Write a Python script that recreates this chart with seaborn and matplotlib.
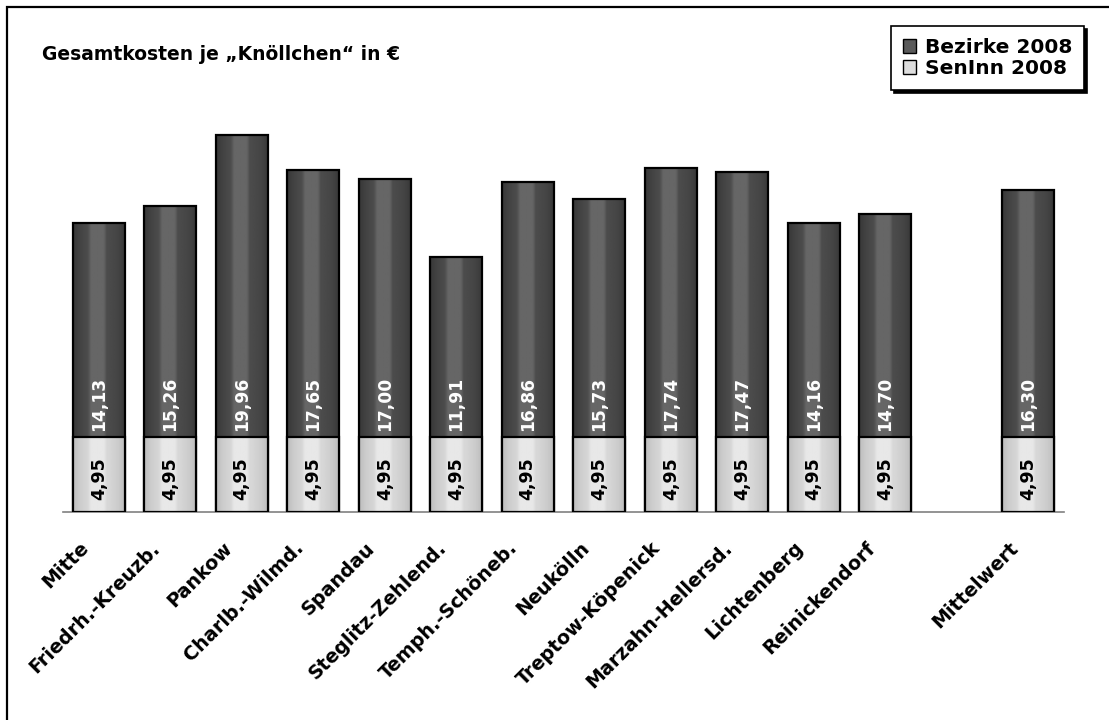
import numpy as np
import pandas as pd
import matplotlib
matplotlib.use("Agg")
import matplotlib.pyplot as plt
import matplotlib.transforms as mtransforms
from matplotlib.patches import Patch, Rectangle
import seaborn as sns

# Daten
bezirke = ["Mitte", "Friedrh.-Kreuzb.", "Pankow", "Charlb.-Wilmd.", "Spandau",
           "Steglitz-Zehlend.", "Temph.-Schöneb.", "Neukölln", "Treptow-Köpenick",
           "Marzahn-Hellersd.", "Lichtenberg", "Reinickendorf", "Mittelwert"]
kosten_bezirke = [14.13, 15.26, 19.96, 17.65, 17.00, 11.91, 16.86, 15.73, 17.74,
                  17.47, 14.16, 14.70, 16.30]
kosten_seninn = [4.95] * 13
reihenfolge = bezirke[:12] + [""] + bezirke[12:]


def fmt(v):
    return f"{v:.2f}".replace(".", ",")


def gradient_fill(ax, patch, stops, vals, z):
    x0, y0 = patch.get_x(), patch.get_y()
    w, h = patch.get_width(), patch.get_height()
    xs = np.linspace(0, 1, 64)
    g = np.interp(xs, stops, vals)[None, :]
    im = ax.imshow(g, cmap="gray", vmin=0, vmax=1, aspect="auto",
                   extent=(x0, x0 + w, y0, y0 + h), zorder=z, interpolation="bilinear")
    im.set_clip_path(patch)
    patch.set_facecolor("none")
    patch.set_zorder(z + 0.1)


def main():
    sns.set_style("white")
    plt.rcParams["font.family"] = ["DejaVu Sans"]
    plt.rcParams["text.color"] = "black"
    plt.rcParams["xtick.color"] = "black"

    df = pd.DataFrame({"Bezirk": bezirke,
                       "Gesamt": np.array(kosten_bezirke) + np.array(kosten_seninn),
                       "SenInn": kosten_seninn})

    fig = plt.figure(figsize=(11.09, 7.2), dpi=100)
    ax = fig.add_axes([63 / 1109, 208 / 720, (1064 - 63) / 1109, 409 / 720])

    # Gesamtbalken dunkel, SenInn-Anteil hell darüber
    sns.barplot(data=df, x="Bezirk", y="Gesamt", order=reihenfolge, color="#4a4a4a",
                width=0.73, edgecolor="black", linewidth=1.6, ax=ax)
    n_dark = len(ax.patches)
    sns.barplot(data=df, x="Bezirk", y="SenInn", order=reihenfolge, color="#d8d8d8",
                width=0.73, edgecolor="black", linewidth=1.6, ax=ax)
    dark = ax.patches[:n_dark]
    light = ax.patches[n_dark:]

    stops = [0, 0.12, 0.28, 0.34, 0.58, 0.64, 0.85, 1.0]
    for p in dark:
        if np.isnan(p.get_height()) or p.get_height() == 0:
            continue
        gradient_fill(ax, p, stops, [0.22, 0.26, 0.30, 0.40, 0.40, 0.30, 0.27, 0.22], 2)
    for p in light:
        if np.isnan(p.get_height()) or p.get_height() == 0:
            continue
        gradient_fill(ax, p, stops, [0.74, 0.80, 0.84, 0.91, 0.91, 0.85, 0.80, 0.74], 3)

    ax.set_xlim(-0.5, 13.5)
    ax.set_ylim(0, 27)
    ax.set_xlabel("")
    ax.set_ylabel("")
    ax.set_yticks([])
    for s in ["top", "left", "right"]:
        ax.spines[s].set_visible(False)
    ax.spines["bottom"].set_color("#808080")
    ax.spines["bottom"].set_linewidth(1.2)
    ax.tick_params(axis="x", length=0, pad=0)

    # Beschriftungen in den Balken
    pos = [i for i, r in enumerate(reihenfolge) if r]
    for xb, b, s in zip(pos, kosten_bezirke, kosten_seninn):
        off = mtransforms.offset_copy(ax.transData, fig=fig, x=0, y=6, units="dots")
        ax.text(xb, s, fmt(b), rotation=90, ha="center", va="bottom", color="white",
                fontsize=12.3, fontweight="bold", transform=off, zorder=5)
        off2 = mtransforms.offset_copy(ax.transData, fig=fig, x=0, y=-4, units="dots")
        ax.text(xb, s / 2, fmt(s), rotation=90, ha="center", va="center", color="black",
                fontsize=12.5, fontweight="bold", transform=off2, zorder=5)

    ax.set_xticks(pos)
    ax.set_xticklabels(bezirke, rotation=45, ha="right", va="center",
                       rotation_mode="anchor", fontsize=13.8, fontweight="bold")
    shift = mtransforms.ScaledTranslation(-13 / 100, -33 / 100, fig.dpi_scale_trans)
    for lab in ax.get_xticklabels():
        lab.set_transform(lab.get_transform() + shift)

    fig.text(42 / 1109, 1 - 55 / 720, "Gesamtkosten je „Knöllchen“ in €",
             fontsize=13.5, fontweight="bold", va="center", ha="left")

    handles = [Patch(facecolor="#5a5a5a", edgecolor="black", label="Bezirke 2008"),
               Patch(facecolor="#dedede", edgecolor="black", label="SenInn 2008")]
    leg = fig.legend(handles=handles, loc="upper right",
                     bbox_to_anchor=(1084 / 1109, 1 - 26 / 720),
                     frameon=True, fancybox=False, shadow={"color": "black", "alpha": 1},
                     prop={"weight": "bold", "size": 14.5}, handlelength=0.65,
                     handleheight=0.65, handletextpad=0.4, labelspacing=0.1,
                     borderpad=0.6, borderaxespad=0)
    leg.get_frame().set_edgecolor("black")
    leg.get_frame().set_linewidth(1.2)

    fig.patches.append(Rectangle((7 / 1109, -0.05), 1.2, 1.05 - 7 / 720,
                                 transform=fig.transFigure, fill=False,
                                 edgecolor="black", linewidth=1.6))

    fig.savefig("out.png", dpi=100)


if __name__ == "__main__":
    main()
